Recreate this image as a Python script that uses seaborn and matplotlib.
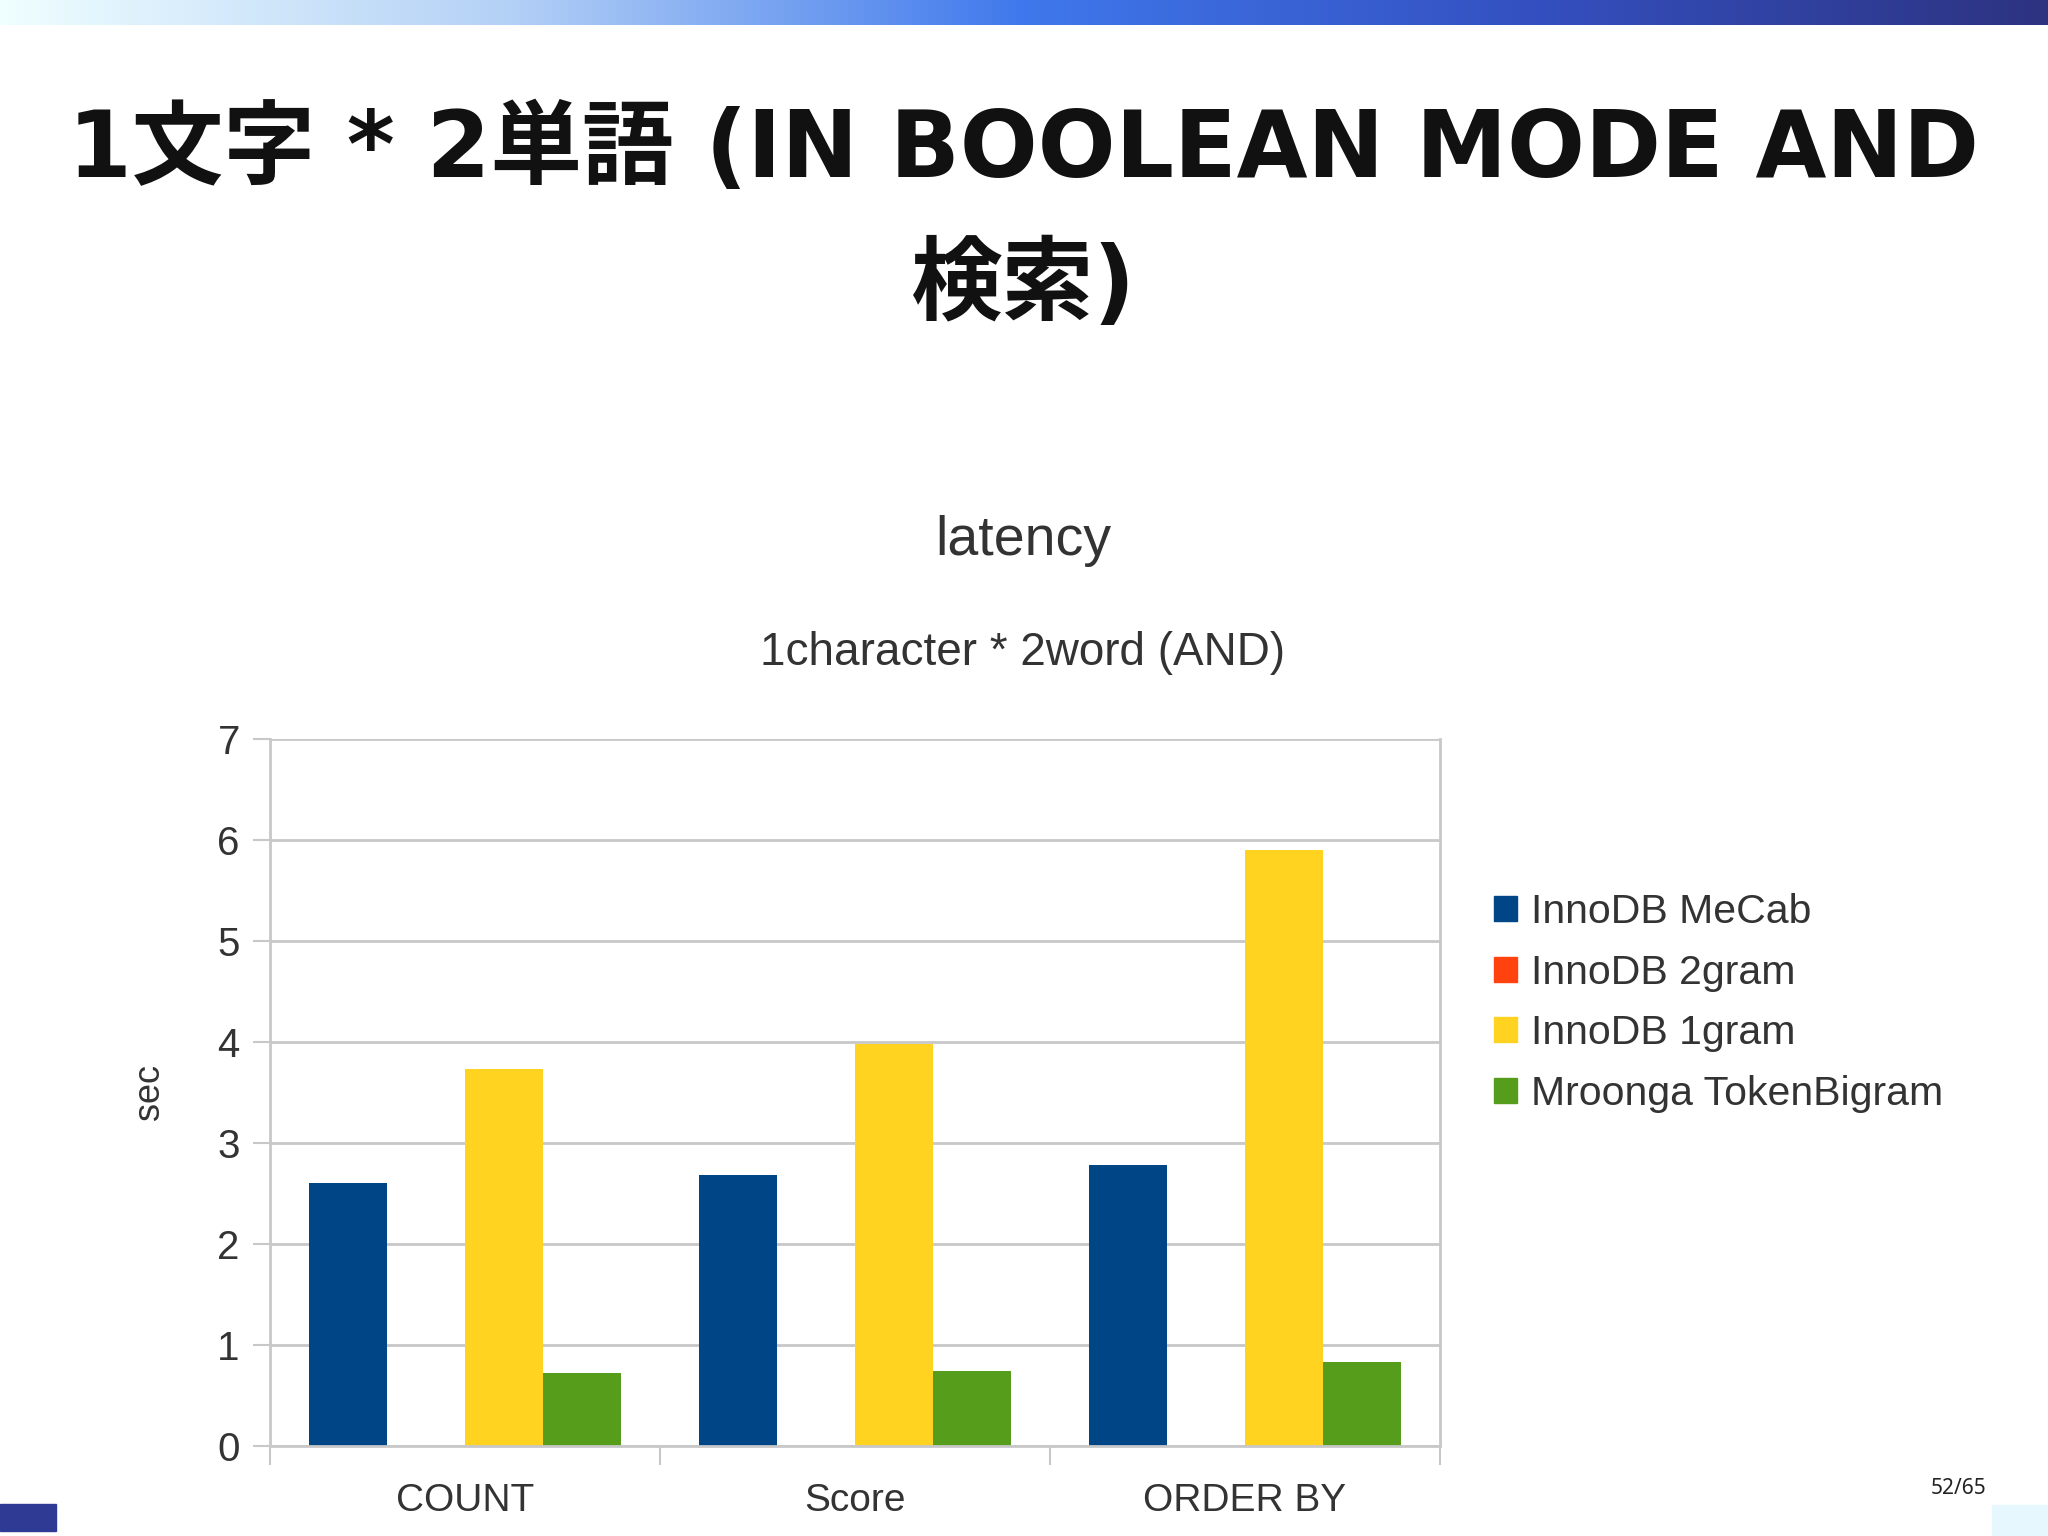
import numpy as np
import pandas as pd
import matplotlib.pyplot as plt
import seaborn as sns
from matplotlib.patches import Rectangle
from matplotlib.colors import LinearSegmentedColormap

# values (seconds)
categories = ["COUNT", "Score", "ORDER BY"]
series = ["InnoDB MeCab", "InnoDB 2gram", "InnoDB 1gram", "Mroonga TokenBigram"]
mecab = [2.60, 2.68, 2.78]
bigram = [0.0, 0.0, 0.0]
unigram = [3.73, 3.98, 5.90]
mroonga = [0.72, 0.74, 0.83]
colors = ["#004586", "#ff420e", "#ffd320", "#579d1c"]

df = pd.DataFrame({
    "query": categories * 4,
    "engine": np.repeat(series, 3),
    "sec": mecab + bigram + unigram + mroonga,
})

sns.set_theme(style="white")
plt.rcParams["font.family"] = ["Liberation Sans", "DejaVu Sans"]

fig = plt.figure(figsize=(20.48, 15.36), dpi=100)

# slide decoration: gradient bar on top, small boxes at the bottom
bar = fig.add_axes([0, 0.984, 1, 0.016])
grad = np.linspace(0, 1, 512).reshape(1, -1)
cmap = LinearSegmentedColormap.from_list(
    "slide", ["#effeff", "#b3d0f6", "#3f78ec", "#3450c0", "#2d3381"])
bar.imshow(grad, aspect="auto", cmap=cmap)
bar.axis("off")
fig.patches.append(Rectangle((0, 0.003), 0.0274, 0.018, transform=fig.transFigure,
                             color="#2e3a94", zorder=5))
fig.patches.append(Rectangle((0.9726, 0), 0.0274, 0.0204, transform=fig.transFigure,
                             color="#e6f7fd", zorder=5))
fig.text(0.9565, 0.031, "52/65", ha="center", va="center", fontsize=15,
         color="#222222", family=["Noto Sans", "DejaVu Sans"])

# slide title (Verdana-like latin, gothic kanji)
title_font = ["DejaVu Sans", "Noto Sans CJK JP"]
fig.text(0.5, 0.902, "1文字 * 2単語 (IN BOOLEAN MODE AND", ha="center", va="center",
         fontsize=66, fontweight="bold", family=title_font, color="#111111")
fig.text(0.5, 0.813, "検索)", ha="center", va="center",
         fontsize=66, fontweight="bold", family=title_font, color="#111111")

# chart titles
fig.text(0.4995, 0.648, "latency", ha="center", va="center", fontsize=40, color="#333333")
fig.text(0.4995, 0.575, "1character * 2word (AND)", ha="center", va="center",
         fontsize=33, color="#333333")

ax = fig.add_axes([0.132, 0.0587, 0.571, 0.4603])
sns.barplot(data=df, x="query", y="sec", hue="engine", order=categories,
            hue_order=series, palette=colors, width=0.8, linewidth=0,
            saturation=1, ax=ax, legend=False)

ax.set_ylim(0, 7)
ax.set_xlim(-0.5, 2.5)
ax.set_yticks(range(0, 8))
ax.yaxis.grid(True, color="#c8c8c8", linewidth=2)
ax.set_axisbelow(True)
for side in ["left", "right", "top", "bottom"]:
    ax.spines[side].set_color("#c8c8c8")
    ax.spines[side].set_linewidth(2)
ax.spines["top"].set_visible(False)

ax.set_xticks([0, 1, 2])
ax.set_xticks([-0.5, 0.5, 1.5, 2.5], minor=True)
ax.tick_params(axis="x", which="major", length=0, labelsize=28, labelcolor="#333333", pad=27)
ax.tick_params(axis="x", which="minor", length=14, width=1.5, color="#c8c8c8", bottom=True)
ax.tick_params(axis="y", which="major", length=12, width=1.5, color="#c8c8c8", left=True,
               labelsize=29, labelcolor="#333333", pad=10)
ax.set_xlabel("")
ax.set_ylabel("sec", fontsize=26, color="#333333", labelpad=36)

handles = [Rectangle((0, 0), 1, 1, color=c) for c in colors]
fig.legend(handles, series, loc="center left", bbox_to_anchor=(0.7196, 0.347),
           frameon=False, fontsize=29.5, handlelength=0.55, handleheight=0.55,
           handletextpad=0.35, labelspacing=0.55, borderpad=0, labelcolor="#333333")

fig.savefig("out.png", dpi=100, facecolor="white")
